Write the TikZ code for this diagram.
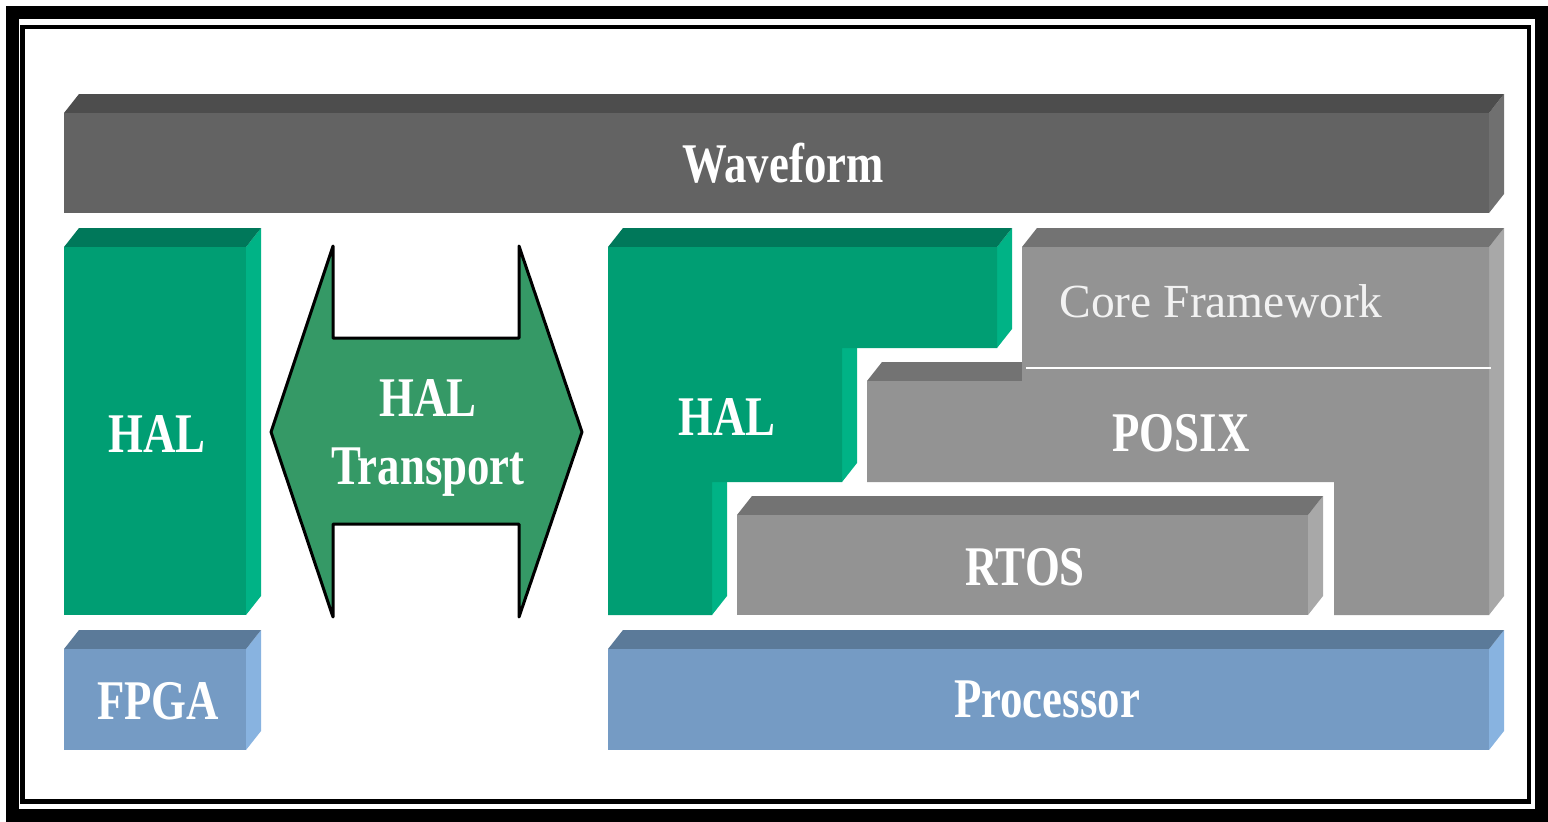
\documentclass[tikz,border=0pt]{standalone}
\usepackage{fontspec}
\setmainfont{Liberation Serif}
\newfontfamily\labelfont[FakeStretch=0.8]{Liberation Serif}

\definecolor{wavefront}{RGB}{99,99,99}
\definecolor{wavetop}{RGB}{77,77,77}
\definecolor{waveside}{RGB}{112,112,112}
\definecolor{halfront}{RGB}{0,158,115}
\definecolor{haltop}{RGB}{0,120,90}
\definecolor{halside}{RGB}{0,179,134}
\definecolor{osfront}{RGB}{147,147,147}
\definecolor{ostop}{RGB}{115,115,115}
\definecolor{osside}{RGB}{168,168,168}
\definecolor{hwfront}{RGB}{117,155,196}
\definecolor{hwtop}{RGB}{91,122,153}
\definecolor{hwside}{RGB}{136,179,224}
\definecolor{arrowgreen}{RGB}{53,153,102}

\tikzset{
  layer label/.style={text=white, inner sep=0pt, anchor=base,
    font=\labelfont\bfseries\fontsize{56}{68}\selectfont},
  core label/.style={text=white!95!black, inner sep=0pt, anchor=base,
    font=\fontsize{47.5}{56}\selectfont},
}

% box with front face from (#1,#2) to (#3,#4), colours #5front/#5top/#5side
\newcommand{\layerbox}[5]{%
  \fill[#5side] (#3,#2) -- ++(\depthx,-\depthy) -- ({#3+\depthx},{#4-\depthy}) -- (#3,#4) -- cycle;
  \fill[#5top] (#1,#2) -- ++(\depthx,-\depthy) -- ({#3+\depthx},{#2-\depthy}) -- (#3,#2) -- cycle;
  \fill[#5front] (#1,#2) rectangle (#3,#4);
}

\begin{document}
\begin{tikzpicture}[x=1pt,y=-1pt]
  \pgfmathsetmacro{\depthx}{15}
  \pgfmathsetmacro{\depthy}{19}
  %
  \useasboundingbox (0,0) rectangle (1548,822);
  \fill[white] (0,0) rectangle (1548,822);
  \draw[line width=13pt] (12.5,12.5) rectangle (1541.5,815.5);
  \draw[line width=4.5pt] (22.5,27) rectangle (1529,801.5);
  %
  \layerbox{64}{113}{1489}{213}{wave}
  \layerbox{64}{247}{246}{615}{hal}
  \layerbox{64}{649}{246}{750}{hw}
  \layerbox{608}{649}{1489}{750}{hw}
  \layerbox{737}{515}{1308}{615}{os}
  %
  \foreach \x/\ya/\yb in {997/247/348, 842/348/482, 712/482/615}
    \fill[halside] (\x,\ya) -- ++(\depthx,-\depthy) -- ({\x+\depthx},{\yb-\depthy}) -- (\x,\yb) -- cycle;
  \fill[haltop] (608,247) -- ++(\depthx,-\depthy) -- (1012,228) -- (997,247) -- cycle;
  \fill[halfront] (608,247) -- (997,247) -- (997,348) -- (842,348) -- (842,482)
    -- (712,482) -- (712,615) -- (608,615) -- cycle;
  %
  \fill[osside] (1489,247) -- ++(\depthx,-\depthy) -- (1504,596) -- (1489,615) -- cycle;
  \fill[ostop] (1022,247) -- ++(\depthx,-\depthy) -- (1504,228) -- (1489,247) -- cycle;
  \fill[ostop] (867,381) -- ++(\depthx,-\depthy) -- (1022,362) -- (1022,381) -- cycle;
  \fill[osfront] (1022,247) -- (1489,247) -- (1489,615) -- (1334,615) -- (1334,482)
    -- (867,482) -- (867,381) -- (1022,381) -- cycle;
  \draw[white, line width=2pt] (1026,368) -- (1491,368);
  %
  \draw[line width=3pt, line join=round, fill=arrowgreen] (271,432) -- (333,246) -- (333,338) -- (519,338)
    -- (519,246) -- (582,432) -- (519,617) -- (519,524) -- (333,524) -- (333,617) -- cycle;
  %
  \node[layer label] (wave) at (783,182) {Waveform};
  \node[layer label] (hal left) at (157,452) {HAL};
  \node[layer label, anchor=center, align=center] (transport) at (428,438) {HAL\\Transport};
  \node[layer label] (hal right) at (727,435) {HAL};
  \node[core label] (core) at (1221,317) {Core Framework};
  \node[layer label] (posix) at (1181,451) {POSIX};
  \node[layer label] (rtos) at (1025,585) {RTOS};
  \node[layer label] (fpga) at (158,719) {FPGA};
  \node[layer label] (cpu) at (1047,717) {Processor};
\end{tikzpicture}
\end{document}
